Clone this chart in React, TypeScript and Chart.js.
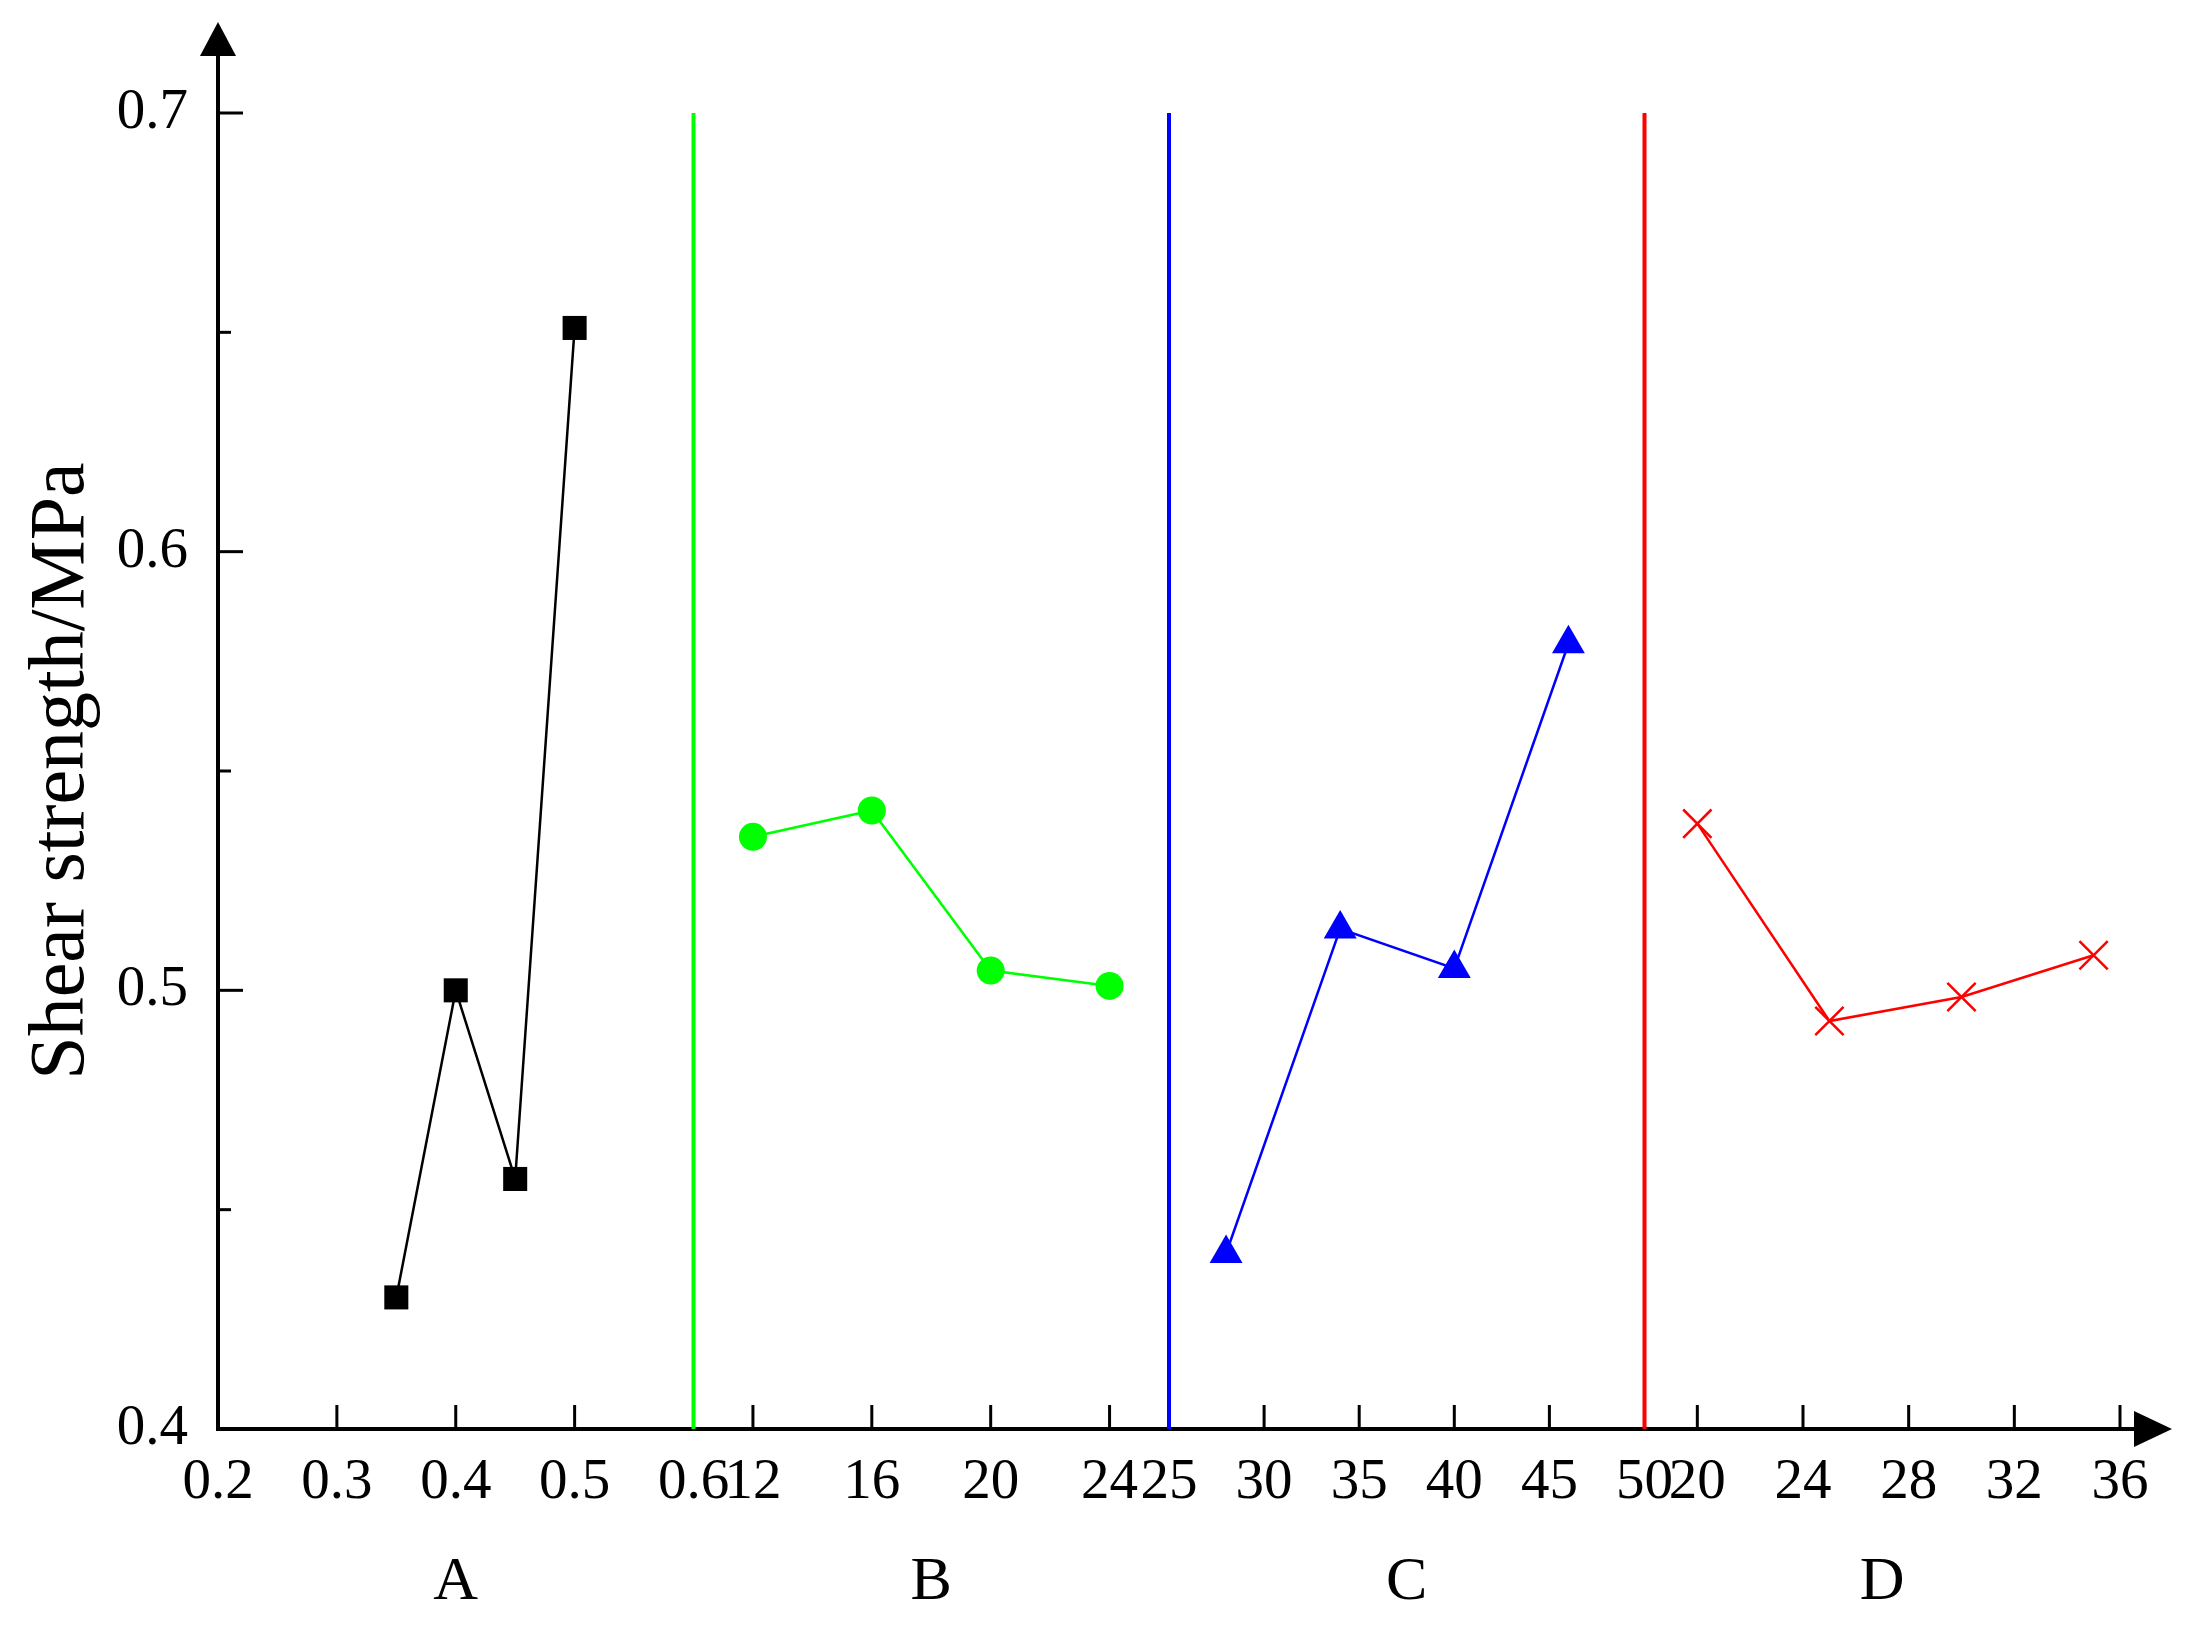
import React, { useEffect, useRef } from 'react';
import { Chart, registerables } from 'chart.js';

Chart.register(...registerables);

// ---- data ----
const categories = ['A', 'B', 'C', 'D'];

const aX = [0.35, 0.4, 0.45, 0.5];
const aY = [0.43, 0.5, 0.457, 0.651];
const bX = [12, 16, 20, 24];
const bY = [0.535, 0.541, 0.5045, 0.501];
const cX = [28, 34, 40, 46];
const cY = [0.44, 0.514, 0.505, 0.579];
const dX = [20, 25, 30, 35];
const dY = [0.538, 0.493, 0.4985, 0.508];

const aRange = [0.2, 0.6];
const bRange = [10, 26];
const cRange = [25, 50];
const dRange = [18, 36];
const yRange = [0.4, 0.7];

const aTicks = [0.2, 0.3, 0.4, 0.5, 0.6];
const bTicks = [12, 16, 20, 24];
const cTicks = [25, 30, 35, 40, 45, 50];
const dTicks = [20, 24, 28, 32, 36];
const yTicks = [0.4, 0.45, 0.5, 0.55, 0.6, 0.65, 0.7];

// divider positions (axis id, value)
const greenDivider = 0.6; // on A axis
const blueDivider = 25; // on C axis
const redDivider = 50; // on C axis

const yTitle = 'Shear strength/MPa';

const FONT = '"Liberation Serif", "Times New Roman", serif';

const pts = (xs: number[], ys: number[]) => xs.map((x, i) => ({ x, y: ys[i] }));
const vline = (v: number) => [
  { x: v, y: yRange[0] },
  { x: v, y: yRange[1] },
];

const axisDecor = {
  id: 'axisDecor',
  beforeDatasetsDraw(chart: any) {
    const ctx = chart.ctx;
    ctx.save();
    ctx.strokeStyle = '#000';
    ctx.lineWidth = 3;
    ['xA', 'xB', 'xC', 'xD'].forEach((id) => {
      const s = chart.scales[id];
      s.ticks.forEach((t: any) => {
        const px = s.getPixelForValue(t.value);
        ctx.beginPath();
        ctx.moveTo(px, s.top);
        ctx.lineTo(px, s.top - 24);
        ctx.stroke();
      });
    });
    const y = chart.scales.y;
    y.ticks.forEach((t: any) => {
      const py = y.getPixelForValue(t.value);
      const len = t.label ? 25 : 13;
      ctx.beginPath();
      ctx.moveTo(y.right, py);
      ctx.lineTo(y.right + len, py);
      ctx.stroke();
    });
    ctx.restore();
  },
  afterDraw(chart: any) {
    const ctx = chart.ctx;
    const { left, top, right, bottom } = chart.chartArea;
    ctx.save();
    ctx.strokeStyle = '#000';
    ctx.fillStyle = '#000';
    ctx.lineWidth = 4;
    ctx.beginPath();
    ctx.moveTo(left, top + 2);
    ctx.lineTo(left, top - 60);
    ctx.stroke();
    ctx.beginPath();
    ctx.moveTo(left, top - 91);
    ctx.lineTo(left - 18, top - 57);
    ctx.lineTo(left + 18, top - 57);
    ctx.closePath();
    ctx.fill();
    ctx.beginPath();
    ctx.moveTo(right - 2, bottom);
    ctx.lineTo(right + 18, bottom);
    ctx.stroke();
    ctx.beginPath();
    ctx.moveTo(right + 52, bottom);
    ctx.lineTo(right + 14, bottom - 18);
    ctx.lineTo(right + 14, bottom + 18);
    ctx.closePath();
    ctx.fill();
    ctx.restore();
  },
};

function xScale(range: number[], ticks: number[], title: string) {
  return {
    type: 'linear',
    axis: 'x',
    position: 'bottom',
    stack: 'panels',
    stackWeight: 1,
    min: range[0],
    max: range[1],
    afterBuildTicks: (s: any) => {
      s.ticks = ticks.map((v) => ({ value: v }));
    },
    afterFit: (s: any) => {
      s.height = 204;
    },
    grid: { display: true, drawOnChartArea: false, drawTicks: false, lineWidth: 0 },
    border: { display: true, color: '#000', width: 4 },
    ticks: {
      autoSkip: false,
      maxRotation: 0,
      minRotation: 0,
      padding: 20,
      color: '#000',
      font: { family: FONT, size: 57 },
      callback: (v: any) => String(v),
    },
    title: {
      display: true,
      text: title,
      color: '#000',
      font: { family: FONT, size: 62, lineHeight: 1.2 },
      padding: { top: 0, bottom: 13 },
    },
  };
}

export default function App() {
  const ref = useRef<HTMLCanvasElement | null>(null);
  useEffect(() => {
    if (!ref.current) return;
    const chart = new Chart(ref.current, {
      type: 'scatter',
      data: {
        datasets: [
          {
            data: vline(greenDivider),
            xAxisID: 'xA',
            yAxisID: 'y',
            showLine: true,
            borderColor: '#00ff00',
            borderWidth: 4,
            pointRadius: 0,
            clip: false,
          },
          {
            data: vline(blueDivider),
            xAxisID: 'xC',
            yAxisID: 'y',
            showLine: true,
            borderColor: '#0000ff',
            borderWidth: 4,
            pointRadius: 0,
            clip: false,
          },
          {
            data: vline(redDivider),
            xAxisID: 'xC',
            yAxisID: 'y',
            showLine: true,
            borderColor: '#ff0000',
            borderWidth: 4,
            pointRadius: 0,
            clip: false,
          },
          {
            data: pts(aX, aY),
            xAxisID: 'xA',
            yAxisID: 'y',
            showLine: true,
            borderColor: '#000',
            backgroundColor: '#000',
            borderWidth: 2.5,
            pointStyle: 'rect',
            pointRadius: 17,
            pointBorderWidth: 0,
            clip: false,
          },
          {
            data: pts(bX, bY),
            xAxisID: 'xB',
            yAxisID: 'y',
            showLine: true,
            borderColor: '#00ff00',
            backgroundColor: '#00ff00',
            borderWidth: 2.5,
            pointStyle: 'circle',
            pointRadius: 14,
            pointBorderWidth: 0,
            clip: false,
          },
          {
            data: pts(cX, cY),
            xAxisID: 'xC',
            yAxisID: 'y',
            showLine: true,
            borderColor: '#0000ff',
            backgroundColor: '#0000ff',
            borderWidth: 2.5,
            pointStyle: 'triangle',
            pointRadius: 19,
            pointBorderWidth: 0,
            clip: false,
          },
          {
            data: pts(dX, dY),
            xAxisID: 'xD',
            yAxisID: 'y',
            showLine: true,
            borderColor: '#ff0000',
            backgroundColor: '#ff0000',
            borderWidth: 2.5,
            pointStyle: 'crossRot',
            pointRadius: 20,
            pointBorderWidth: 2.5,
            clip: false,
          },
        ],
      },
      options: {
        animation: false,
        responsive: false,
        devicePixelRatio: 1,
        layout: { padding: { top: 113, right: 77, bottom: 0, left: 0 } },
        plugins: { legend: { display: false }, tooltip: { enabled: false } },
        scales: {
          xA: xScale(aRange, aTicks, categories[0]),
          xB: xScale(bRange, bTicks, categories[1]),
          xC: xScale(cRange, cTicks, categories[2]),
          xD: xScale(dRange, dTicks, categories[3]),
          y: {
            type: 'linear',
            axis: 'y',
            position: 'left',
            min: yRange[0],
            max: yRange[1],
            afterBuildTicks: (s: any) => {
              s.ticks = yTicks.map((v) => ({ value: v }));
            },
            afterFit: (s: any) => {
              s.width = 218;
            },
            grid: { display: true, drawOnChartArea: false, drawTicks: false, lineWidth: 0 },
            border: { display: true, color: '#000', width: 4 },
            ticks: {
              autoSkip: false,
              padding: 30,
              color: '#000',
              font: { family: FONT, size: 57 },
              callback: (v: any) => {
                const n = Number(v);
                return Math.abs(n * 10 - Math.round(n * 10)) < 1e-6 ? n.toFixed(1) : '';
              },
            },
            title: {
              display: true,
              text: yTitle,
              color: '#000',
              font: { family: FONT, size: 78, lineHeight: 1.2 },
              padding: { top: 16, bottom: 0 },
            },
          },
        },
      } as any,
      plugins: [axisDecor],
    } as any);
    return () => chart.destroy();
  }, []);

  return (
    <div style={{ position: 'absolute', left: 0, top: 0, width: 2197, height: 1633, background: '#fff' }}>
      <canvas ref={ref} width={2197} height={1633} style={{ display: 'block' }} />
    </div>
  );
}
